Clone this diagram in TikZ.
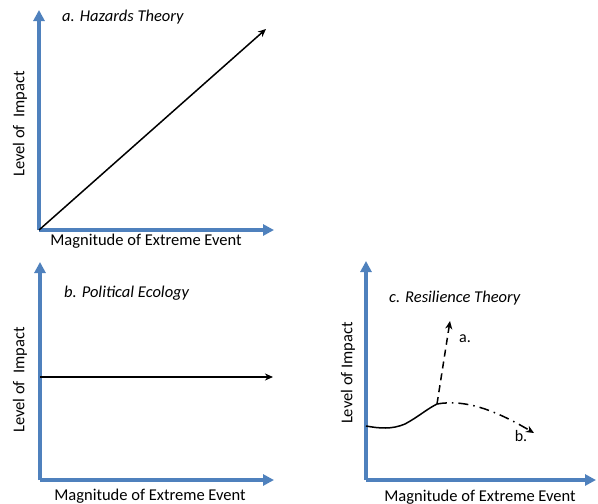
\documentclass[tikz,border=0pt]{standalone}
\usepackage{fontspec}
\setmainfont{Carlito}
\usetikzlibrary{arrows.meta}
\definecolor{axisblue}{RGB}{79,129,189}
\tikzset{
  axis/.style={draw=axisblue, line width=3.2pt, -{Triangle[length=11pt,width=11pt]}},
  curve/.style={draw=black, line width=1.5pt},
  blackarrow/.style={curve, -{Stealth[length=8pt,width=7pt,inset=2.5pt]}},
  lbl/.style={font=\fontsize{16.5}{19}\selectfont, inner sep=0pt},
  ttl/.style={font=\fontsize{16.5}{19}\selectfont\itshape, inner sep=0pt, anchor=west},
  small/.style={font=\fontsize{16}{18}\selectfont, inner sep=0pt},
}
\begin{document}
\begin{tikzpicture}[x=1pt,y=-1pt]
\useasboundingbox (0,0) rectangle (598,504);
% ---- panel a ----
\coordinate (Ao) at (39,230);
\coordinate (Ay) at (39,10);
\coordinate (Ax) at (274,230);
\coordinate (Ad) at (266,29);
\draw[axis] (Ao) -- (Ay);
\draw[axis] (Ao) -- (Ax);
\draw[blackarrow] (Ao) -- (Ad);
\node[ttl] (At) at (62,17) {a. Hazards Theory};
\node[lbl, rotate=90] (Al) at (20,124) {Level of\ \ Impact};
\node[lbl] (Am) at (146,241) {Magnitude of Extreme Event};
% ---- panel b ----
\coordinate (Bo) at (40,480);
\coordinate (By) at (40,262);
\coordinate (Bx) at (274,480);
\coordinate (Bs) at (40,377);
\coordinate (Be) at (273,377);
\draw[axis] (Bo) -- (By);
\draw[axis] (Bo) -- (Bx);
\draw[blackarrow] (Bs) -- (Be);
\node[ttl] (Bt) at (64,293) {b. Political Ecology};
\node[lbl, rotate=90] (Bl) at (20,380) {Level of\ \ Impact};
\node[lbl] (Bm) at (150,496) {Magnitude of Extreme Event};
% ---- panel c ----
\coordinate (Co) at (366,480);
\coordinate (Cy) at (366,261);
\coordinate (Cx) at (596,480);
\coordinate (Cs) at (366,426);
\coordinate (Cm1) at (405,424);
\coordinate (Ck) at (437,404);
\coordinate (Ca) at (450,321);
\coordinate (Cb) at (534,433);
\draw[axis] (Co) -- (Cy);
\draw[axis] (Co) -- (Cx);
\draw[curve] (Cs) .. controls (380,428.5) and (392,429.5) .. (Cm1) .. controls (418,417) and (427,409) .. (Ck);
\draw[blackarrow, dash pattern=on 7pt off 5pt] (Ck) -- (Ca);
\draw[blackarrow, dash pattern=on 10pt off 5pt on 1.5pt off 5pt] (Ck) .. controls (465,399) and (495,410) .. (Cb);
\node[ttl] (Ct) at (389,298) {c. Resilience Theory};
\node[lbl, rotate=90] (Cl) at (348,373) {Level of Impact};
\node[lbl] (Cm) at (480,497) {Magnitude of Extreme Event};
\node[small] (Cla) at (465,339) {a.};
\node[small] (Clb) at (521,436) {b.};
\end{tikzpicture}
\end{document}
